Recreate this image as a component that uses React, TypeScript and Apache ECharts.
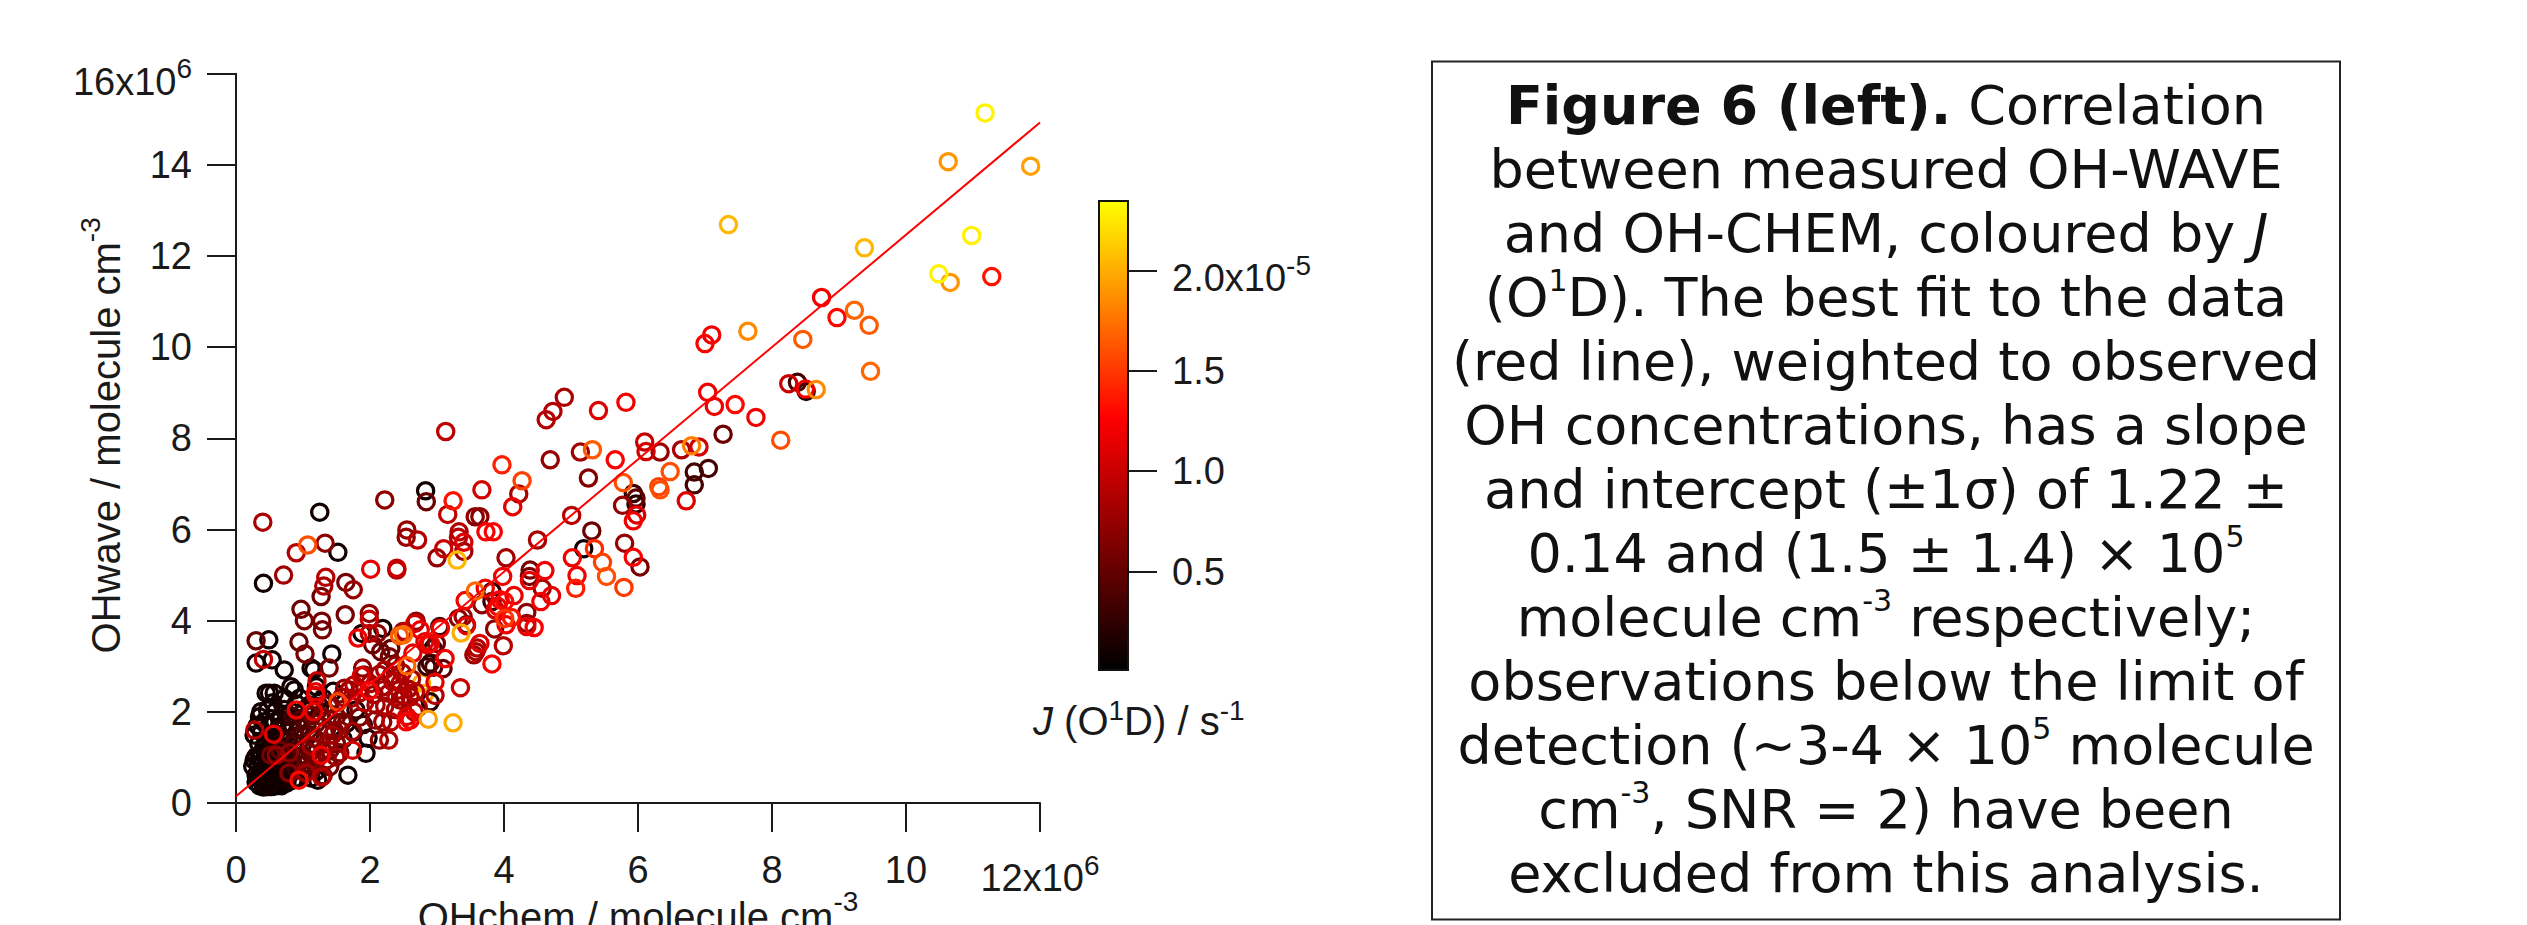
import React, { useEffect, useRef } from "react";
import * as echarts from "echarts";

// [OH-chem /1e6, OH-wave /1e6, J(O1D) /1e-5]
const upperPoints = [
  [11.18,15.14,2.3],[10.63,14.07,1.9],[11.86,13.97,1.95],[7.35,12.69,2.05],[9.38,12.18,2.05],[10.98,12.45,2.3],
  [10.49,11.61,2.3],[10.66,11.42,1.9],[11.28,11.55,1.35],[8.74,11.09,1.2],[9.23,10.81,1.7],[8.97,10.65,1.3],
  [9.45,10.48,1.65],[7.1,10.27,1.2],[7.0,10.08,1.25],[7.64,10.35,1.85],[8.46,10.17,1.65],[9.47,9.47,1.7],
  [8.25,9.2,1.0],[8.38,9.23,0.35],[8.51,9.03,0.2],[8.5,9.08,1.2],[8.66,9.07,1.85],[7.04,9.01,1.2],
  [7.14,8.7,1.2],[7.45,8.74,1.3],[7.76,8.46,1.2],[7.27,8.09,0.55],[8.13,7.96,1.6],[4.9,8.9,0.85],
  [4.73,8.59,0.9],[4.63,8.41,0.9],[5.41,8.61,1.1],[5.82,8.79,1.2],[6.1,7.92,1.0],[6.12,7.71,1.05],
  [6.33,7.7,0.75],[6.65,7.75,0.85],[6.8,7.84,1.8],[6.91,7.81,1.05],[7.05,7.34,0.35],[6.84,7.26,0.35],
  [6.84,6.98,0.35],[6.48,7.27,1.6],[6.31,6.94,1.55],[6.33,6.87,1.6],[6.72,6.63,1.1],[4.69,7.53,0.75],
  [5.14,7.7,0.8],[5.32,7.75,1.65],[5.66,7.53,1.25],[5.26,7.13,0.65],[5.78,7.03,1.6],[3.97,7.42,1.4],
  [4.27,7.07,1.55],[4.22,6.78,0.85],[4.13,6.5,1.15],[3.13,8.15,0.95],
];
const middlePoints = [
  [3.67,6.87,1.05],[3.64,6.28,0.7],[3.84,5.95,1.25],[4.03,5.38,0.8],[4.5,5.77,0.85],[5.01,6.31,0.9],
  [5.31,5.97,0.55],[5.19,5.58,0.1],[5.35,5.58,1.45],[5.02,5.38,1.2],[5.8,5.7,0.75],[5.93,5.39,1.25],
  [5.47,5.28,1.55],[6.03,5.18,0.6],[5.93,6.79,0.3],[5.97,6.69,0.5],[5.97,6.56,0.2],[5.77,6.53,0.75],
  [5.98,6.32,1.1],[5.93,6.19,1.2],[4.39,5.11,0.6],[4.61,5.1,1.2],[3.98,4.97,1.2],[4.38,4.97,0.6],
  [4.38,4.88,1.15],[5.09,4.99,1.2],[5.07,4.71,1.4],[5.53,4.97,1.6],[5.79,4.73,1.5],[4.71,4.55,1.15],
  [4.55,4.42,1.2],[4.57,4.71,0.8],[4.15,4.55,1.15],[3.94,4.46,1.25],[4.01,4.42,1.3],[3.91,4.31,1.2],
  [3.87,4.24,1.05],[4.01,4.05,1.5],[4.11,4.07,1.35],[4.03,3.91,1.2],[3.86,3.82,0.7],[3.99,3.45,0.9],
  [4.34,4.18,0.7],[4.34,3.94,0.7],[4.45,3.85,1.25],[4.34,3.87,1.15],[3.82,3.05,1.25],[3.64,3.5,1.1],
  [3.6,3.4,0.9],[3.58,3.32,0.85],[3.55,3.25,0.8],[3.42,4.44,1.2],[3.57,4.65,1.7],[3.72,4.71,1.2],
  [3.82,4.64,0.25],[3.67,4.35,0.7],[3.82,4.42,0.3],[3.39,4.09,0.75],[3.32,4.05,0.7],[3.44,3.91,0.3],
  [3.44,3.89,1.15],[3.36,3.73,2.0],[3.04,3.87,0.4],[3.05,3.83,1.2],[2.69,3.99,0.75],[2.67,3.94,1.0],
  [2.52,3.76,0.9],[2.75,3.8,1.2],[2.9,3.5,1.2],[2.82,3.54,1.1],[2.94,3.39,0.2],[3.12,3.17,1.2],
  [2.9,3.07,0.3],[2.85,2.99,0.3],[2.95,2.98,0.4],[3.09,2.95,0.5],[2.55,3.01,1.7],[2.5,3.69,1.75],
  [2.97,2.65,1.15],[2.97,2.36,0.9],[2.9,2.22,0.2],[3.35,2.53,1.0],[2.87,1.84,1.95],[3.24,1.76,2.0],
  [2.6,1.82,1.2],[2.55,1.9,1.05],[2.57,2.5,0.8],[2.5,2.35,0.8],
  [2.6,2.33,0.85],[2.45,2.63,0.9],[2.45,2.26,0.8],
];
const hiddenPoints = [[2.77,2.63,2.0],[2.82,2.4,2.0]];
const leftPoints = [
  [1.25,6.38,0.1],[0.4,6.16,0.85],[1.07,5.66,1.6],[0.9,5.49,0.9],[1.33,5.7,0.7],[1.52,5.5,0.1],
  [0.71,5.0,0.8],[0.41,4.82,0.1],[1.34,4.95,0.9],[1.31,4.76,0.85],[1.27,4.53,0.55],[1.64,4.84,0.6],
  [1.75,4.68,0.75],[2.01,5.13,1.15],[2.4,5.15,1.0],[2.4,5.11,0.9],[2.54,5.83,0.75],[2.71,5.77,0.9],
  [2.22,6.65,0.7],[2.84,6.61,0.55],[2.83,6.85,0.1],[3.16,6.33,0.95],[3.24,6.63,1.35],[3.57,6.28,0.7],
  [3.73,5.95,1.25],[3.32,5.83,0.9],[3.4,5.72,1.1],[3.1,5.58,1.0],[3.4,5.52,0.8],[3.0,5.38,0.75],
  [3.3,5.33,2.05],[0.97,4.25,0.55],[1.02,4.0,0.6],[1.28,3.99,0.6],[1.29,3.8,0.6],[1.63,4.13,0.6],
  [1.99,4.16,0.7],[1.99,4.03,1.0],[2.19,3.83,0.1],[1.88,3.72,0.1],[1.82,3.62,1.2],[1.99,3.72,0.9],
  [2.11,3.72,0.7],[2.04,3.47,0.55],[2.16,3.32,0.55],[2.31,3.39,0.5],[2.29,3.21,0.6],[2.44,3.67,1.65],
  [2.49,3.76,0.7],[1.89,2.96,0.7],[2.64,3.29,1.1],[2.86,3.47,1.05],[2.99,3.5,0.6],[3.33,5.95,0.9],
  [2.55,5.99,0.75],[0.3,3.56,0.5],[0.49,3.58,0.1],[0.94,3.53,0.5],[1.03,3.27,0.6],[1.43,3.27,0.1],
  [0.41,3.15,0.95],[0.54,3.14,0.1],[0.3,3.07,0.1],[0.72,2.92,0.1],[1.12,2.96,0.1],[1.16,2.92,0.1],
  [1.39,2.96,0.6],
];
const lowerPoints = [
  [1.21,2.68,1.0],[1.19,2.44,1.15],[1.19,2.36,1.15],[1.87,2.79,1.05],[1.91,2.81,0.8],[1.99,2.46,1.25],
  [1.52,2.22,1.55],[1.52,2.21,0.2],[1.16,2.0,1.15],[0.9,2.04,1.2],[0.56,1.51,1.15],[0.52,1.05,0.6],
  [1.27,1.05,1.2],[1.44,1.49,0.8],[0.94,0.5,1.3],[1.67,0.61,0.1],[1.94,1.09,0.1],[1.97,1.42,0.1],
  [2.14,1.38,0.7],[2.28,1.38,0.9],[2.19,1.78,0.75],[2.31,1.78,0.9],[2.54,1.78,1.25],[2.09,2.15,0.8],
  [2.19,2.55,0.8],[2.34,2.66,0.9],[2.39,2.33,0.9],[2.28,2.41,0.8],[2.43,2.48,0.85],[1.62,2.52,0.75],
  [1.69,2.48,0.8],[1.76,2.59,0.9],[1.79,2.04,0.2],[0.5,2.41,0.1],[0.57,2.41,0.1],[0.82,2.55,0.1],
  [0.87,2.48,0.1],[0.45,2.41,0.1],[0.37,2.0,0.1],[0.47,2.04,0.1],[0.35,1.89,0.1],[0.27,1.49,0.1],
  [0.28,1.6,0.9],[0.27,0.94,0.1],[0.25,0.8,0.1],[0.3,0.61,0.1],[0.4,0.43,0.1],[0.47,0.36,0.1],
  [0.55,0.44,0.1],[0.3,1.02,0.1],[1.28,0.57,0.9],[1.04,0.66,0.8],[0.79,0.66,0.7],[1.74,1.16,1.05],
  [1.49,1.01,0.8],[1.74,1.57,0.8],[1.59,1.78,0.6],
];
const clusterPoints = [
  [0.33,0.55,0.05],[0.38,0.72,0.05],[0.42,0.5,0.05],[0.45,0.62,0.05],[0.5,0.4,0.05],[0.52,0.55,0.05],
  [0.55,0.72,0.1],[0.58,0.48,0.05],[0.6,0.62,0.05],[0.63,0.4,0.05],[0.66,0.55,0.1],[0.7,0.72,0.1],
  [0.72,0.48,0.1],[0.45,0.88,0.05],[0.5,1.0,0.1],[0.38,1.1,0.05],[0.42,1.25,0.1],[0.62,0.88,0.1],
  [0.68,1.02,0.1],[0.75,0.85,0.15],[0.8,0.62,0.2],[0.85,0.5,0.15],[0.9,0.75,0.3],[0.82,1.02,0.2],
  [0.95,0.95,0.3],[1.0,0.7,0.4],[1.05,0.85,0.5],[0.9,1.15,0.25],[0.78,1.25,0.15],[0.7,1.4,0.1],
  [0.6,1.3,0.1],[0.55,1.2,0.15],[0.48,1.45,0.1],[0.38,1.55,0.1],[0.5,1.7,0.1],[0.62,1.6,0.15],
  [0.75,1.55,0.2],[0.88,1.45,0.3],[1.0,1.3,0.35],[1.1,1.1,0.45],[1.15,0.9,0.5],[1.2,0.7,0.1],
  [1.3,0.6,0.6],[1.4,0.8,0.55],[1.25,1.35,0.5],[1.1,1.5,0.4],[0.95,1.65,0.3],[0.8,1.75,0.2],
  [0.65,1.85,0.1],[0.58,2.0,0.1],[0.72,2.05,0.15],[0.85,1.9,0.3],[1.0,1.85,0.4],[1.2,1.75,0.5],
  [1.35,1.6,0.55],[1.5,1.3,0.6],[1.55,1.1,0.65],[1.4,1.15,0.6],[1.6,1.4,0.1],[1.65,1.75,0.15],
  [1.75,1.55,0.2],[1.5,1.9,0.6],[1.35,2.0,0.2],[1.1,2.15,0.1],[0.95,2.3,0.1],[0.72,2.3,0.1],
  [0.55,2.2,0.1],[1.3,2.3,0.1],[1.45,2.45,0.1],[1.2,2.55,0.1],[0.8,1.1,0.7],[0.66,1.15,0.5],
  [0.6,1.05,0.75],[1.12,1.25,0.8],[0.92,0.55,0.15],[1.12,0.55,0.1],[1.22,0.5,0.1],
];
const densePoints = [
  [0.3,0.46,0.02],[0.35,0.38,0.02],[0.41,0.35,0.02],[0.46,0.44,0.03],[0.53,0.36,0.02],[0.56,0.5,0.03],
  [0.6,0.38,0.03],[0.64,0.47,0.04],[0.68,0.38,0.04],[0.72,0.56,0.05],[0.76,0.44,0.06],[0.36,0.62,0.02],
  [0.41,0.66,0.03],[0.49,0.7,0.03],[0.55,0.62,0.04],[0.63,0.7,0.05],[0.69,0.63,0.06],[0.76,0.72,0.07],
  [0.33,0.84,0.03],[0.4,0.9,0.04],[0.48,0.82,0.04],[0.54,0.92,0.05],[0.6,0.78,0.05],[0.67,0.86,0.06],
  [0.73,0.97,0.08],[0.85,0.85,0.15],[0.35,1.0,0.04],[0.44,1.08,0.05],[0.58,1.12,0.06],[0.64,1.22,0.1],
  [0.72,1.12,0.12],[0.34,1.3,0.05],[0.46,1.32,0.06],[0.54,1.42,0.07],[0.66,1.48,0.1],[0.32,1.7,0.08],
  [0.42,1.78,0.08],[0.58,1.78,0.1],[0.7,1.72,0.12],[0.76,1.9,0.14],[0.84,1.68,0.25],[0.92,1.8,0.3],
  [0.98,1.5,0.4],[1.06,1.68,0.45],[1.14,1.92,0.55],[1.28,1.9,0.6],[1.42,1.82,0.65],[1.3,1.15,0.7],
  [1.18,1.42,0.6],[1.36,1.32,0.7],[1.47,1.58,0.7],[1.55,1.6,0.65],[1.12,0.72,0.6],[1.36,0.95,0.7],
  [1.2,0.95,0.55],[1.0,1.05,0.45],[0.86,1.3,0.35],[1.02,2.05,0.2],[0.9,2.18,0.15],[1.25,2.12,0.3],
  [1.4,2.18,0.55],[1.58,2.32,0.75],[1.72,2.3,0.8],[1.85,2.42,0.85],[1.92,2.2,0.9],[2.0,2.62,0.8],
  [2.06,2.38,0.75],[2.14,2.82,0.8],[2.22,2.92,0.85],[2.32,2.8,0.75],[2.38,3.02,0.7],[2.48,2.86,0.85],
  [2.62,2.72,0.8],[2.68,2.44,0.9],[2.72,2.1,0.85],[2.66,2.0,0.9],[2.38,2.05,0.8],[2.22,2.12,0.85],
  [2.08,1.82,0.7],[1.9,1.72,0.3],[1.84,1.88,0.6],[1.6,2.05,0.6],
];
const fitLine = [[0, 0.146], [12, 14.93]];
const xTicks = ["0", "2", "4", "6", "8", "10"];
const yTicks = ["0", "2", "4", "6", "8", "10", "12", "14"];
const barTickValues = [0.5, 1.0, 1.5, 2.0];
const captionLines = [
  "{b|Figure 6 (left).}{r| Correlation}",
  "{r|between measured OH-WAVE}",
  "{r|and OH-CHEM, coloured by }{i|J}",
  "{r|(O}{s|1}{r|D). The best fit to the data}",
  "{r|(red line), weighted to observed}",
  "{r|OH concentrations, has a slope}",
  "{r|and intercept (±1σ) of 1.22 ±}",
  "{r|0.14 and (1.5 ± 1.4) × 10}{s|5}",
  "{r|molecule cm}{s|-3}{r| respectively;}",
  "{r|observations below the limit of}",
  "{r|detection (~3-4 × 10}{s|5}{r| molecule}",
  "{r|cm}{s|-3}{r|, SNR = 2) have been}",
  "{r|excluded from this analysis.}",
];

const FONT = "'Liberation Sans', Arial, sans-serif";
const CAPTION_FONT = "'DejaVu Sans', Verdana, sans-serif";
const INK = "#1a1a1a";
const RING = "path://M9 0A9 9 0 1 1 9 18A9 9 0 1 1 9 0ZM9 3A6 6 0 1 0 9 15A6 6 0 1 0 9 3Z";
const hotStops = ["#000000","#240000","#490000","#6d0000","#920000","#b60000","#db0000","#ff0000","#ff2b00","#ff5500","#ff8000","#ffaa00","#ffd500","#ffff00"];

const allPoints = [
  ...hiddenPoints,
  ...[...densePoints, ...clusterPoints, ...lowerPoints, ...leftPoints, ...middlePoints, ...upperPoints].sort(
    (a, b) => a[2] - b[2],
  ),
];

export default function App() {
  const ref = useRef<HTMLDivElement>(null);
  useEffect(() => {
    const chart = echarts.init(ref.current!, undefined, { renderer: "svg" });
    const tickRich = {
      n: { fontFamily: FONT, fontSize: 38, lineHeight: 38, color: INK },
      m: { fontFamily: FONT, fontSize: 38, lineHeight: 38, padding: [16, 0, 0, 0], color: INK },
      u: { fontFamily: FONT, fontSize: 28, lineHeight: 24, verticalAlign: "top", color: INK },
    };
    const supToken = { fontFamily: FONT, fontSize: 28, lineHeight: 24, verticalAlign: "top", color: INK };
    const axisBase = {
      axisLine: { show: true, onZero: false, lineStyle: { color: INK, width: 2 } },
      axisTick: { show: true, length: 29, inside: false, lineStyle: { color: INK, width: 2 } },
      splitLine: { show: false },
    };
    chart.setOption({
      animation: false,
      backgroundColor: "#ffffff",
      grid: [
        { left: 236, top: 73.7, width: 804, height: 729.3, outerBoundsMode: "none", containLabel: false },
        { left: 1099, top: 201, width: 29, height: 469, outerBoundsMode: "none", containLabel: false },
      ],
      xAxis: [
        {
          ...axisBase,
          type: "value",
          gridIndex: 0,
          min: 0,
          max: 12,
          interval: 2,
          axisLabel: {
            margin: 48,
            showMaxLabel: true,
            rich: tickRich,
            formatter: (v: number) => (xTicks.includes(String(v)) ? `{n|${v}}` : `{m|${v}x10}{u|6}`),
          },
          name: "{t|OHchem / molecule cm}{u|-3}",
          nameLocation: "middle",
          nameMoveOverlap: false,
          nameGap: 84,
          nameTextStyle: {
            rich: {
              t: { fontFamily: FONT, fontSize: 40, lineHeight: 50, padding: [10, 0, 0, 0], color: INK },
              u: supToken,
            },
          },
        },
        { type: "value", gridIndex: 1, min: 0, max: 1, show: false },
      ],
      yAxis: [
        {
          ...axisBase,
          type: "value",
          gridIndex: 0,
          min: 0,
          max: 16,
          interval: 2,
          axisLabel: {
            margin: 44,
            showMaxLabel: true,
            rich: tickRich,
            formatter: (v: number) => (yTicks.includes(String(v)) ? `{n|${v}}` : `{m|${v}x10}{u|6}`),
          },
          name: "{t|OHwave / molecule cm}{u|-3}",
          nameLocation: "middle",
          nameMoveOverlap: false,
          nameRotate: 90,
          nameGap: 110,
          nameTextStyle: {
            rich: {
              t: { fontFamily: FONT, fontSize: 40, lineHeight: 50, padding: [10, 0, 0, 6], color: INK },
              u: supToken,
            },
          },
        },
        {
          type: "value",
          gridIndex: 1,
          position: "right",
          min: 0.01,
          max: 2.345,
          axisLine: { show: true, onZero: false, lineStyle: { color: "#111", width: 2 } },
          splitLine: { show: false },
          axisTick: { show: true, length: 29, customValues: barTickValues, lineStyle: { color: INK, width: 2 } },
          axisLabel: {
            margin: 44,
            customValues: barTickValues,
            rich: tickRich,
            formatter: (v: number) => (v === 2 ? "{m|2.0x10}{u|-5}" : `{n|${v.toFixed(1)}}`),
          },
        },
      ],
      visualMap: {
        type: "continuous",
        seriesIndex: 0,
        dimension: 2,
        min: 0.01,
        max: 2.35,
        show: true,
        calculable: false,
        hoverLink: false,
        realtime: false,
        left: 1099,
        top: 201,
        itemWidth: 29,
        itemHeight: 469,
        padding: 0,
        text: ["", ""],
        showLabel: false,
        inRange: { color: hotStops },
      },
      series: [
        {
          type: "scatter",
          xAxisIndex: 0,
          yAxisIndex: 0,
          symbol: RING,
          symbolSize: 19.5,
          data: allPoints,
          encode: { x: 0, y: 1 },
          itemStyle: { opacity: 1 },
          silent: true,
          z: 2,
        },
        {
          type: "line",
          xAxisIndex: 0,
          yAxisIndex: 0,
          data: fitLine,
          showSymbol: false,
          lineStyle: { color: "#ff0000", width: 2 },
          silent: true,
          z: 3,
        },
      ],
      graphic: [
        {
          type: "rect",
          shape: { x: 1099, y: 201, width: 29, height: 469 },
          style: { fill: "none", stroke: "#111", lineWidth: 2 },
          z: 10,
        },
        {
          type: "text",
          x: 1033,
          y: 696,
          z: 10,
          style: {
            text: "{i|J}{t| (O}{u|1}{t|D) / s}{u|-1}",
            rich: {
              i: { fontFamily: FONT, fontStyle: "italic", fontSize: 40, lineHeight: 50, fill: INK },
              t: { fontFamily: FONT, fontSize: 40, lineHeight: 50, fill: INK },
              u: { fontFamily: FONT, fontSize: 28, lineHeight: 24, verticalAlign: "top", fill: INK },
            },
          },
        },
        {
          type: "rect",
          shape: { x: 1432, y: 61.5, width: 908, height: 858 },
          style: { fill: "none", stroke: "#222", lineWidth: 2 },
          z: 10,
        },
        {
          type: "text",
          x: 1886,
          y: 73,
          z: 10,
          style: {
            text: captionLines.join("\n"),
            align: "center",
            verticalAlign: "top",
            rich: {
              r: { fontFamily: CAPTION_FONT, fontSize: 54, lineHeight: 64, fill: "#111" },
              b: { fontFamily: CAPTION_FONT, fontSize: 54, lineHeight: 64, fontWeight: "bold", fill: "#111" },
              i: { fontFamily: CAPTION_FONT, fontSize: 54, lineHeight: 64, fontStyle: "italic", fill: "#111" },
              s: { fontFamily: CAPTION_FONT, fontSize: 30, lineHeight: 40, verticalAlign: "top", fill: "#111" },
            },
          },
        },
      ],
    });
    return () => chart.dispose();
  }, []);
  return <div ref={ref} style={{ position: "fixed", left: 0, top: 0, width: 2527, height: 925 }} />;
}
